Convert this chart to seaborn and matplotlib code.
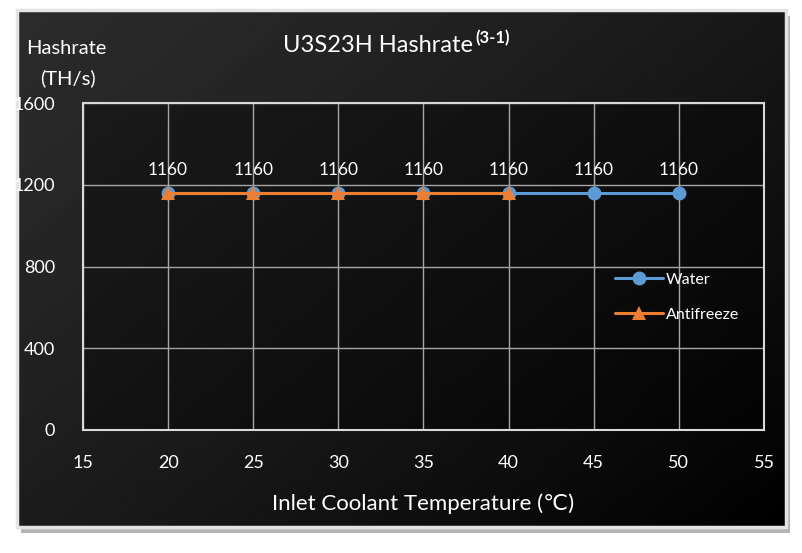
import numpy as np
import pandas as pd
import matplotlib.pyplot as plt
import seaborn as sns
from matplotlib.patches import Rectangle

# data
water_temp = [20, 25, 30, 35, 40, 45, 50]
water_rate = [1160, 1160, 1160, 1160, 1160, 1160, 1160]
anti_temp = [20, 25, 30, 35, 40]
anti_rate = [1160, 1160, 1160, 1160, 1160]
x_ticks = [15, 20, 25, 30, 35, 40, 45, 50, 55]
y_ticks = [0, 400, 800, 1200, 1600]

df = pd.concat([
    pd.DataFrame({'temp': water_temp, 'rate': water_rate, 'coolant': 'Water'}),
    pd.DataFrame({'temp': anti_temp, 'rate': anti_rate, 'coolant': 'Antifreeze'}),
])

sns.set_style('dark')
plt.rcParams['font.family'] = ['Lato', 'DejaVu Sans']
plt.rcParams['text.color'] = 'white'

W, H = 803, 553
fig = plt.figure(figsize=(W / 100, H / 100), dpi=100, facecolor='white')

# dark panel with shadow and light border
px0, py0, px1, py1 = 17, 10, 786, 527
shadow = fig.add_axes([(px0 + 4) / W, 1 - (py1 + 6) / H, (px1 - px0) / W, (py1 - py0) / H], zorder=-2)
shadow.set_axis_off()
shadow.add_patch(Rectangle((0, 0), 1, 1, transform=shadow.transAxes, color='#b4b4b4'))
bg = fig.add_axes([px0 / W, 1 - py1 / H, (px1 - px0) / W, (py1 - py0) / H], zorder=-1)
gx, gy = np.meshgrid(np.linspace(0, 1, 300), np.linspace(0, 1, 200))
grad = 0.17 * (1 - (0.55 * gx + 0.45 * gy) ** 1.3)
bg.imshow(grad, cmap='gray', vmin=0, vmax=1, aspect='auto', extent=[0, 1, 0, 1], origin='upper')
bg.set_axis_off()
bg.add_patch(Rectangle((0, 0), 1, 1, transform=bg.transAxes, facecolor='none',
                       edgecolor='#e4e4e4', lw=2.5, clip_on=False))

ax = fig.add_axes([83 / W, 1 - 430 / H, (764 - 83) / W, (430 - 103) / H], zorder=2)
ax.set_facecolor((0, 0, 0, 0.35))

sns.lineplot(data=df, x='temp', y='rate', hue='coolant', style='coolant',
             palette={'Water': '#5b9bd5', 'Antifreeze': '#ed7d31'},
             markers={'Water': 'o', 'Antifreeze': '^'}, dashes=False,
             markersize=10, markeredgewidth=0, linewidth=2.2, ax=ax, zorder=3)

for x, y in zip(water_temp, water_rate):
    ax.annotate(f'{y}', (x, y), xytext=(0, 11), textcoords='offset points',
                ha='center', va='bottom', color='white', fontsize=12.5)

ax.set_xlim(15, 55)
ax.set_ylim(0, 1600)
ax.set_xticks(x_ticks)
ax.set_yticks(y_ticks)
ax.grid(True, color='#a6a6a6', lw=1)
for s in ax.spines.values():
    s.set_visible(True)
    s.set_color('#d9d9d9')
    s.set_linewidth(1.5)
ax.tick_params(axis='both', length=0, colors='white', labelsize=13)
ax.tick_params(axis='x', pad=18)
ax.tick_params(axis='y', pad=20)
ax.set_xlabel('Inlet Coolant Temperature (℃)', color='white', fontsize=16, labelpad=16)
ax.set_ylabel('')

leg = ax.legend(loc='upper left', bbox_to_anchor=(0.76, 0.525), frameon=False,
                fontsize=11.5, labelspacing=1.3, handlelength=3.0, handletextpad=0.2)
for t in leg.get_texts():
    t.set_color('white')

fig.text(66 / W, 1 - 48 / H, 'Hashrate', ha='center', va='center', fontsize=14.5)
fig.text(68 / W, 1 - 78 / H, '(TH/s)', ha='center', va='center', fontsize=14.5)

t1 = fig.text(283 / W, 1 - 45 / H, 'U3S23H Hashrate', ha='left', va='center', fontsize=17)
fig.canvas.draw()
bb = t1.get_window_extent()
fig.text(bb.x1 / W + 0.003, 1 - 38 / H, '(3-1)', ha='left', va='center',
         fontsize=12, fontweight='bold')

fig.savefig('out.png', dpi=100, facecolor='white')
